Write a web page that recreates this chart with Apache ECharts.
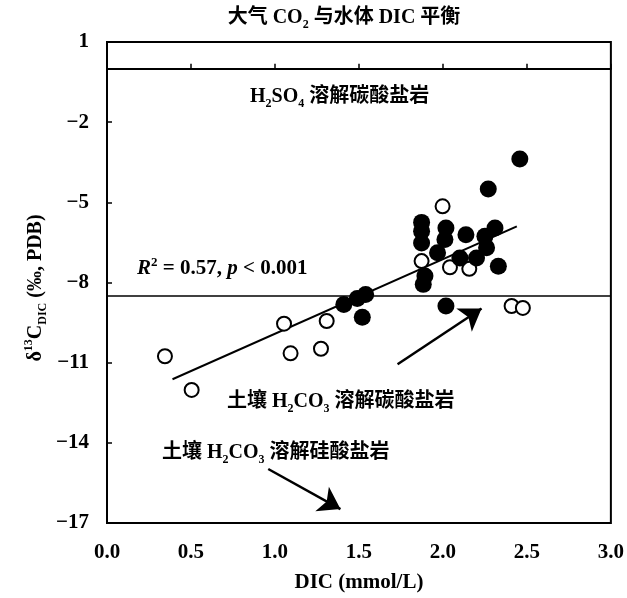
<!DOCTYPE html>
<html>
<head>
<meta charset="utf-8">
<script src="https://cdn.jsdelivr.net/npm/echarts@6/dist/echarts.min.js"></script>
<style>
  html, body { margin: 0; padding: 0; background: #fff; }
  #main { width: 627px; height: 598px; }
</style>
</head>
<body>
<div id="main"></div>
<script>
// axis ticks
const xTicks = [0, 0.5, 1, 1.5, 2, 2.5, 3];
const yTicks = [1, -2, -5, -8, -11, -14, -17];

// samples: [DIC, d13C]
const openPts = [
  [0.345, -10.76], [0.504, -12.02], [1.054, -9.54], [1.093, -10.65],
  [1.274, -10.48], [1.308, -9.44], [1.873, -7.2], [1.998, -5.15],
  [2.042, -7.43], [2.157, -7.49], [2.409, -8.88], [2.476, -8.95]
];
const filledPts = [
  [1.41, -8.82], [1.49, -8.6], [1.54, -8.45], [1.52, -9.3],
  [1.873, -5.75], [1.873, -6.08], [1.873, -6.52], [1.893, -7.76],
  [1.883, -8.07], [1.968, -6.89], [2.012, -6.39], [2.018, -5.96],
  [2.018, -8.88], [2.101, -7.08], [2.137, -6.21], [2.2, -7.08],
  [2.25, -6.27], [2.26, -6.7], [2.27, -4.5], [2.31, -5.96],
  [2.33, -7.39], [2.458, -3.38]
];

// regression line ends
const fitX = [0.39, 2.44];
const fitY = [-11.62, -5.9];

// reference levels
const co2Level = 0;
const soilLevel = -8.5;

// arrows [from, to]
const arrowCarb = [[1.73, -11.06], [2.23, -8.97]];
const arrowSil = [[0.96, -14.98], [1.39, -16.48]];

const serif = '"Liberation Serif", "Noto Sans CJK SC", serif';

function rich(size) {
  const base = {fontFamily: serif, fontWeight: 'bold', fontSize: size, color: '#000', lineHeight: 26};
  return {
    t: {...base},
    i: {...base, fontStyle: 'italic'},
    sub: {...base, fontSize: Math.round(size * 0.6), lineHeight: 19, verticalAlign: 'bottom'},
    sup: {...base, fontSize: Math.round(size * 0.6), lineHeight: 19, verticalAlign: 'top'}
  };
}

const chart = echarts.init(document.getElementById('main'));

const hLine = v => ({yAxis: v});
const arrow = a => [{coord: a[0]}, {coord: a[1]}];

chart.setOption({
  animation: false,
  backgroundColor: '#fff',
  grid: {left: 107, right: 16, top: 42, bottom: 74, show: true, borderColor: '#000', borderWidth: 2},
  xAxis: {
    type: 'value', min: 0, max: 3,
    name: 'DIC (mmol/L)', nameLocation: 'middle', nameGap: 49,
    nameTextStyle: {fontFamily: serif, fontWeight: 'bold', fontSize: 21, color: '#000'},
    axisLine: {show: true, lineStyle: {color: '#000', width: 2}},
    axisTick: {show: true, inside: true, length: 5, customValues: xTicks, lineStyle: {color: '#000', width: 1.5}},
    axisLabel: {
      customValues: xTicks, margin: 19,
      fontFamily: serif, fontWeight: 'bold', fontSize: 21, color: '#000',
      formatter: v => v.toFixed(1)
    },
    splitLine: {show: false}
  },
  yAxis: {
    type: 'value', min: -17, max: 1,
    axisLine: {show: true, lineStyle: {color: '#000', width: 2}},
    axisTick: {show: true, inside: true, length: 5, customValues: yTicks, lineStyle: {color: '#000', width: 1.5}},
    axisLabel: {
      customValues: yTicks, margin: 18,
      fontFamily: serif, fontWeight: 'bold', fontSize: 21, color: '#000',
      formatter: v => String(v).replace('-', '\u2212')
    },
    splitLine: {show: false}
  },
  series: [
    {
      type: 'line',
      data: fitX.map((x, i) => [x, fitY[i]]),
      symbol: 'none',
      lineStyle: {color: '#000', width: 2},
      z: 1,
      markLine: {
        silent: true,
        symbol: 'none',
        label: {show: false},
        lineStyle: {color: '#000', width: 1.5, type: 'solid'},
        data: [hLine(co2Level), hLine(soilLevel)]
      }
    },
    {
      type: 'line',
      data: [],
      markLine: {
        silent: true,
        symbol: ['none', 'arrow'],
        symbolSize: 21,
        label: {show: false},
        itemStyle: {color: '#000'},
        lineStyle: {color: '#000', width: 2.5, type: 'solid'},
        data: [arrow(arrowCarb), arrow(arrowSil)]
      }
    },
    {
      type: 'scatter',
      data: openPts,
      symbol: 'circle',
      symbolSize: 14,
      itemStyle: {color: '#fff', borderColor: '#000', borderWidth: 2, opacity: 1},
      z: 3
    },
    {
      type: 'scatter',
      data: filledPts,
      symbol: 'circle',
      symbolSize: 17,
      itemStyle: {color: '#000', opacity: 1},
      z: 4
    }
  ],
  graphic: [
    {
      type: 'text', x: 344, y: 18,
      style: {text: '{t|大气 CO}{sub|2}{t| 与水体 DIC 平衡}', align: 'center', verticalAlign: 'middle', rich: rich(20)}
    },
    {
      type: 'text', x: 250, y: 97,
      style: {text: '{t|H}{sub|2}{t|SO}{sub|4}{t| 溶解碳酸盐岩}', align: 'left', verticalAlign: 'middle', rich: rich(20)}
    },
    {
      type: 'text', x: 137, y: 269,
      style: {text: '{i|R}{sup|2}{t| = 0.57, }{i|p}{t| < 0.001}', align: 'left', verticalAlign: 'middle', rich: rich(21)}
    },
    {
      type: 'text', x: 227, y: 402,
      style: {text: '{t|土壤 H}{sub|2}{t|CO}{sub|3}{t| 溶解碳酸盐岩}', align: 'left', verticalAlign: 'middle', rich: rich(20)}
    },
    {
      type: 'text', x: 162, y: 453,
      style: {text: '{t|土壤 H}{sub|2}{t|CO}{sub|3}{t| 溶解硅酸盐岩}', align: 'left', verticalAlign: 'middle', rich: rich(20)}
    },
    {
      type: 'text', x: 36, y: 288, rotation: Math.PI / 2,
      style: {text: '{t|δ}{sup|13}{t|C}{sub|DIC}{t| (‰, PDB)}', align: 'center', verticalAlign: 'middle', rich: rich(20)}
    }
  ]
});
</script>
</body>
</html>
